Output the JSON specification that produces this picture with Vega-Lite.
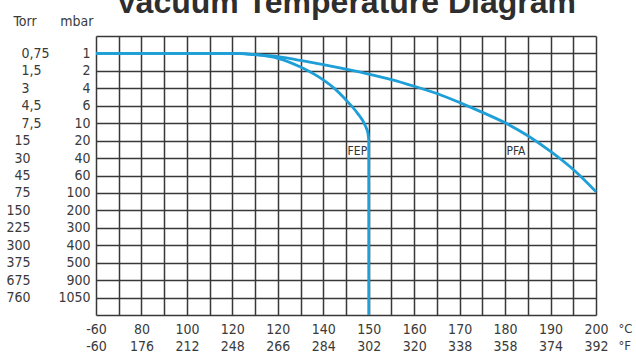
{
  "$schema": "https://vega.github.io/schema/vega-lite/v6.json",
  "width": 500,
  "height": 279,
  "autosize": {"type": "none"},
  "padding": {"left": 96, "top": 36, "right": 40, "bottom": 39},
  "background": "white",
  "title": {
    "text": "Vacuum Temperature Diagram",
    "font": "Liberation Sans",
    "fontSize": 32,
    "fontWeight": "bold",
    "color": "#2e2e2e",
    "anchor": "middle",
    "frame": "group",
    "baseline": "alphabetic",
    "offset": 1,
    "dy": 32
  },
  "config": {
    "view": {"stroke": null},
    "axis": {
      "labelFont": "DejaVu Sans Condensed, Liberation Sans Narrow, sans-serif",
      "titleFont": "DejaVu Sans Condensed, Liberation Sans Narrow, sans-serif",
      "labelFontSize": 14,
      "labelColor": "#3a3a3a",
      "titleColor": "#3a3a3a",
      "titleFontWeight": "normal",
      "titleFontSize": 14,
      "ticks": false,
      "tickSize": 0,
      "domain": false,
      "labelFlush": false,
      "labelOverlap": false,
      "labelBound": false,
      "gridColor": "#383838",
      "gridWidth": 1.5,
      "gridOpacity": 1
    }
  },
  "datasets": {
    "curves": [
      {"material": "FEP", "u": 0, "idx": 1},
      {"material": "FEP", "u": 6, "idx": 1},
      {"material": "FEP", "u": 7, "idx": 1.07},
      {"material": "FEP", "u": 8, "idx": 1.28},
      {"material": "FEP", "u": 9, "idx": 1.78},
      {"material": "FEP", "u": 10, "idx": 2.52},
      {"material": "FEP", "u": 10.5, "idx": 3.02},
      {"material": "FEP", "u": 11, "idx": 3.67},
      {"material": "FEP", "u": 11.5, "idx": 4.42},
      {"material": "FEP", "u": 11.85, "idx": 5.15},
      {"material": "FEP", "u": 11.97, "idx": 5.6},
      {"material": "FEP", "u": 12, "idx": 5.95},
      {"material": "FEP stem", "u": 12, "idx": 5.95},
      {"material": "FEP stem", "u": 12, "idx": 16},
      {"material": "PFA", "u": 0, "idx": 1},
      {"material": "PFA", "u": 6, "idx": 1},
      {"material": "PFA", "u": 7, "idx": 1.07},
      {"material": "PFA", "u": 8, "idx": 1.18},
      {"material": "PFA", "u": 9, "idx": 1.4},
      {"material": "PFA", "u": 10, "idx": 1.64},
      {"material": "PFA", "u": 11, "idx": 1.9},
      {"material": "PFA", "u": 12, "idx": 2.18},
      {"material": "PFA", "u": 13, "idx": 2.5},
      {"material": "PFA", "u": 14, "idx": 2.88},
      {"material": "PFA", "u": 15, "idx": 3.3},
      {"material": "PFA", "u": 16, "idx": 3.82},
      {"material": "PFA", "u": 17, "idx": 4.38},
      {"material": "PFA", "u": 18, "idx": 4.98},
      {"material": "PFA", "u": 19, "idx": 5.72},
      {"material": "PFA", "u": 20, "idx": 6.62},
      {"material": "PFA", "u": 21, "idx": 7.66},
      {"material": "PFA", "u": 22, "idx": 8.93}
    ],
    "labels": [
      {"text": "FEP", "u": 11.5, "idx": 6.6},
      {"text": "PFA", "u": 18.48, "idx": 6.6}
    ]
  },
  "encoding": {
    "x": {
      "field": "u",
      "type": "quantitative",
      "scale": {"domain": [0, 22], "nice": false, "zero": false},
      "axis": {
        "values": [0,1,2,3,4,5,6,7,8,9,10,11,12,13,14,15,16,17,18,19,20,21,22],
        "grid": true,
        "labelPadding": 7,
        "labelBaseline": "top",
        "labelLineHeight": 17,
        "labelExpr": "datum.value % 2 == 0 ? [['-60','80','100','120','120','140','150','160','170','180','190','200'][datum.value/2], ['-60','176','212','248','266','284','302','320','338','358','374','392'][datum.value/2]] : ''",
        "title": ["°C", "°F"],
        "titleFontSize": 13,
        "titleAlign": "left",
        "titleBaseline": "top",
        "titleLineHeight": 17,
        "titleX": 522,
        "titleY": 7
      }
    }
  },
  "layer": [
    {
      "data": {"name": "curves"},
      "mark": {"type": "line", "interpolate": "monotone", "strokeWidth": 2.8, "color": "#1e9fd8"},
      "encoding": {
        "y": {
          "field": "idx",
          "type": "quantitative",
          "scale": {"domain": [0, 16], "reverse": true, "nice": false, "zero": false},
          "axis": {
            "orient": "left",
            "values": [0,1,2,3,4,5,6,7,8,9,10,11,12,13,14,15,16],
            "grid": true,
            "labelPadding": 6,
            "labelBaseline": "middle",
            "labelExpr": "datum.value >= 1 && datum.value <= 15 ? ['1','2','4','6','10','20','40','60','100','200','300','400','500','900','1050'][datum.value-1] : ''",
            "title": "mbar",
            "titleAngle": 0,
            "titleAlign": "right",
            "titleBaseline": "middle",
            "titleX": -3,
            "titleY": -15
          }
        },
        "detail": {"field": "material"},
        "order": {"value": null}
      }
    },
    {
      "data": {"name": "labels"},
      "mark": {"type": "text", "font": "DejaVu Sans Condensed, Liberation Sans Narrow, sans-serif", "fontSize": 12, "color": "#333333", "baseline": "middle", "align": "center"},
      "encoding": {
        "y": {
          "field": "idx",
          "type": "quantitative",
          "axis": {
            "orient": "left",
            "values": [1,2,3,4,5,6,7,8,9,10,11,12,13,14,15],
            "grid": false,
            "labelBaseline": "middle",
            "labelAlign": {"condition": {"test": "datum.value <= 5", "value": "left"}, "value": "right"},
            "labelPadding": {"condition": {"test": "datum.value <= 5", "value": 75}, "value": 66},
            "labelExpr": "['0,75','1,5','3','4,5','7,5','15','30','45','75','150','225','300','375','675','760'][datum.value-1]",
            "title": "Torr",
            "titleAngle": 0,
            "titleAlign": "left",
            "titleBaseline": "middle",
            "titleX": -83,
            "titleY": -15
          }
        },
        "text": {"field": "text"}
      }
    }
  ],
  "resolve": {"axis": {"y": "independent"}}
}
